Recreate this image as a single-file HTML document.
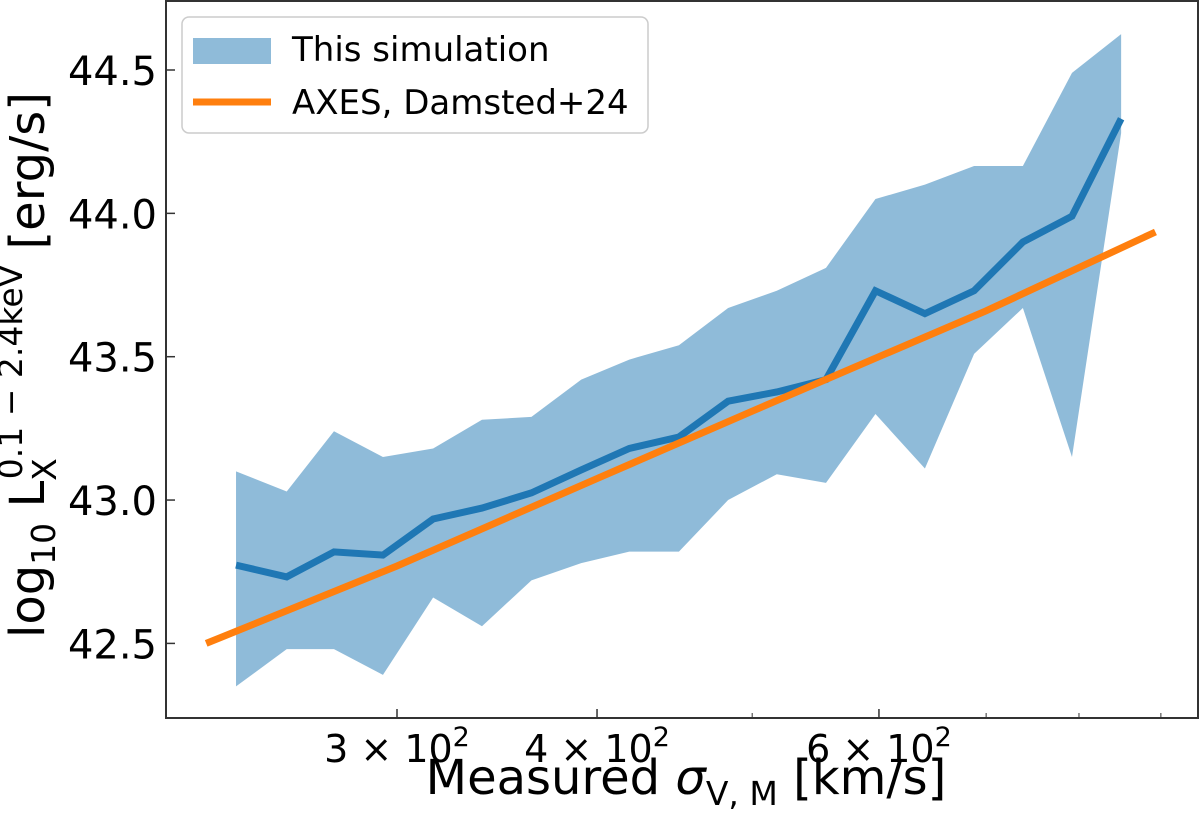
<!DOCTYPE html>
<html><head><meta charset="utf-8"><style>
html,body{margin:0;padding:0;background:#fff;}
svg{display:block;font-family:"DejaVu Sans","Liberation Sans",sans-serif;}
</style></head><body>
<svg id="chart" width="1200" height="828" viewBox="0 0 1200 828">
<g id="plot"></g>
</svg>
<script>
const sigma = [238,256,274,294,316,339,364,391,419,450,483,518,556,597,641,688,738,792,850];
const meanL = [42.773,42.732,42.819,42.808,42.934,42.972,43.025,43.105,43.18,43.22,43.345,43.377,43.42,43.73,43.65,43.73,43.90,43.99,44.33];
const upperL = [43.10,43.03,43.24,43.15,43.18,43.28,43.29,43.42,43.49,43.54,43.67,43.73,43.81,44.05,44.10,44.165,44.165,44.49,44.625];
const lowerL = [42.35,42.48,42.48,42.39,42.66,42.56,42.72,42.78,42.82,42.82,43.0,43.09,43.06,43.30,43.11,43.51,43.67,43.15,44.28];
const axesSigma = [228,300,400,500,600,700,893];
const axesL = [42.50,42.77,43.075,43.31,43.50,43.66,43.935];
const yTicks = [42.5,43.0,43.5,44.0,44.5];
const yTickLabels = ["42.5","43.0","43.5","44.0","44.5"];
const xMajor = [300,400,600];
const xMajorMant = ["3","4","6"];
const xMinor = [500,700,800,900];

const NS="http://www.w3.org/2000/svg";
const L=166,R=1198,T=1,B=718;
function xs(v){return 397+1601*Math.log10(v/300);}
function ys(v){return 70+(44.5-v)*286.7;}
const g=document.getElementById('plot');
function mk(tag,attrs,parent){const e=document.createElementNS(NS,tag);for(const k in attrs)e.setAttribute(k,attrs[k]);(parent||g).appendChild(e);return e;}

let pts=sigma.map((s,i)=>xs(s)+','+ys(upperL[i]));
for(let i=sigma.length-1;i>=0;i--)pts.push(xs(sigma[i])+','+ys(lowerL[i]));
const band=mk('polygon',{points:pts.join(' '),fill:'#1f77b4','fill-opacity':'0.5',stroke:'none'});


const mean=mk('polyline',{points:sigma.map((s,i)=>xs(s)+','+ys(meanL[i])).join(' '),fill:'none',stroke:'#1f77b4','stroke-width':'7'});


const ax=mk('polyline',{points:axesSigma.map((s,i)=>xs(s)+','+ys(axesL[i])).join(' '),fill:'none',stroke:'#ff7f0e','stroke-width':'7'});



const fr=mk('rect',{x:L,y:T,width:R-L,height:B-T,fill:'none',stroke:'#333','stroke-width':'2'});



yTicks.forEach((v,i)=>{
  const y=ys(v);
  const t=mk('line',{x1:L,x2:L+9,y1:y,y2:y,stroke:'#333','stroke-width':'1.5'});
  
  
  const tx=mk('text',{x:L-9,y:y+15,'text-anchor':'end','font-size':'40',fill:'#000'});
  tx.textContent=yTickLabels[i];
  
  
});
xMajor.forEach((v,i)=>{
  const x=xs(v);
  const t=mk('line',{x1:x,x2:x,y1:B,y2:B-9,stroke:'#333','stroke-width':'1.5'});
  
  
  const tx=mk('text',{x:x,y:B+44,'text-anchor':'middle','font-size':'38',fill:'#000'});
  tx.innerHTML=xMajorMant[i]+' × 10<tspan dy="-16" font-size="27">2</tspan>';
  
  
});
xMinor.forEach(v=>{
  const x=xs(v);
  const t=mk('line',{x1:x,x2:x,y1:B,y2:B-5,stroke:'#333','stroke-width':'1'});
  
  
});
</script>
<svg style="position:absolute;left:0;top:0" width="1200" height="828">
<text x="686" y="794" text-anchor="middle" font-size="48" font-family="DejaVu Sans, Liberation Sans, sans-serif">Measured <tspan font-style="italic">σ</tspan><tspan font-size="33" dy="11">V, M</tspan><tspan dy="-11"> [km/s]</tspan></text>
<text transform="translate(44,365) rotate(-90)" text-anchor="middle" font-size="48" font-family="DejaVu Sans, Liberation Sans, sans-serif">log<tspan font-size="33" dy="11">10</tspan><tspan dy="-11"> L</tspan><tspan font-size="33" dy="12">X</tspan><tspan font-size="33" dx="-21" dy="-34">0.1 − 2.4keV</tspan><tspan dy="22"> [erg/s]</tspan></text>
<g>
<rect x="182" y="17" width="466" height="116" rx="7" fill="#fff" fill-opacity="0.85" stroke="#ccc" stroke-width="1.5"/>
<rect x="193" y="38" width="78" height="26" fill="#1f77b4" fill-opacity="0.5"/>
<text x="292" y="61" font-size="34" font-family="DejaVu Sans, Liberation Sans, sans-serif">This simulation</text>
<line x1="193" x2="271" y1="102" y2="102" stroke="#ff7f0e" stroke-width="7"/>
<text x="292" y="114" font-size="34" font-family="DejaVu Sans, Liberation Sans, sans-serif">AXES, Damsted+24</text>
</g>
</svg>
</body></html>
